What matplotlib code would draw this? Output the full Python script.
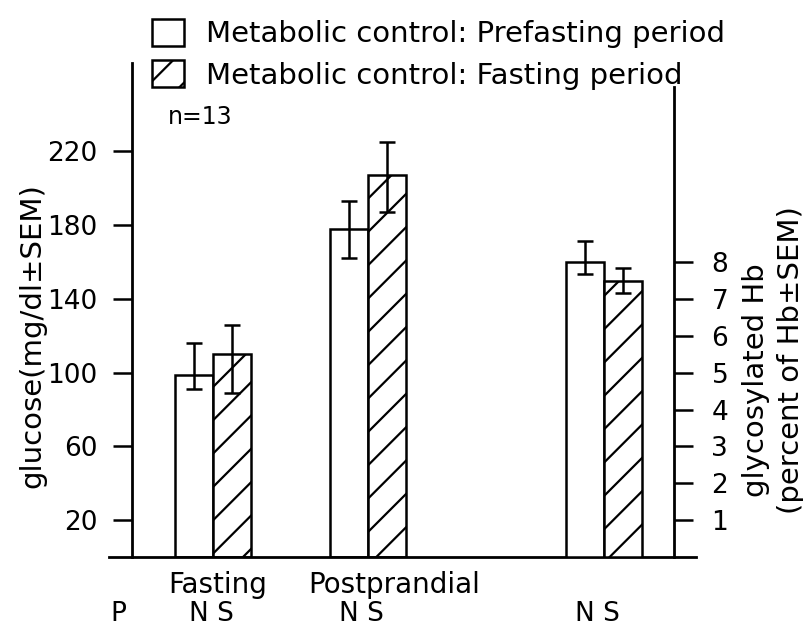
import matplotlib
matplotlib.use('Agg')
import matplotlib.pyplot as plt
import numpy as np

# glucose values (mg/dl)
glucose_groups = ['Fasting', 'Postprandial']
glucose_pos = [0, 1]
pre_mean = [99, 178]
pre_low = [91, 162]
pre_high = [116, 193]
fast_mean = [110, 207]
fast_low = [89, 187]
fast_high = [126, 225]

# glycosylated Hb (percent of Hb)
hb_pos = [2.52]
hb_pre_mean = [8.0]
hb_pre_low = [7.68]
hb_pre_high = [8.57]
hb_fast_mean = [7.5]
hb_fast_low = [7.16]
hb_fast_high = [7.84]

p_labels = ['N S', 'N S', 'N S']
p_pos = [-0.01, 0.96, 2.48]

glucose_ticks = [20, 60, 100, 140, 180, 220]
hb_ticks = [1, 2, 3, 4, 5, 6, 7, 8]

plt.rcParams['font.family'] = 'DejaVu Sans'
plt.rcParams['hatch.linewidth'] = 1.6

fig = plt.figure(figsize=(8.04, 6.3), dpi=100)
ax = fig.add_axes([109/804, 1 - 557/630, (696-109)/804, (557-63)/630])
ax2 = ax.twinx()

w = 0.245
lw = 1.8
err_kw = dict(fmt='none', ecolor='black', elinewidth=1.8, capsize=6, capthick=1.8)

def errs(mean, lo, hi):
    m = np.array(mean)
    return [m - np.array(lo), np.array(hi) - m]

b1 = ax.bar(np.array(glucose_pos) - w/2, pre_mean, w, facecolor='white',
            edgecolor='black', linewidth=lw, label='Metabolic control: Prefasting period')
b2 = ax.bar(np.array(glucose_pos) + w/2, fast_mean, w, facecolor='white',
            edgecolor='black', linewidth=lw, hatch='/', label='Metabolic control: Fasting period')
ax.errorbar(np.array(glucose_pos) - w/2, pre_mean, yerr=errs(pre_mean, pre_low, pre_high), **err_kw)
ax.errorbar(np.array(glucose_pos) + w/2, fast_mean, yerr=errs(fast_mean, fast_low, fast_high), **err_kw)

# Hb bars on the right-hand scale
ax2.bar(np.array(hb_pos) - w/2, hb_pre_mean, w, facecolor='white', edgecolor='black', linewidth=lw)
ax2.bar(np.array(hb_pos) + w/2, hb_fast_mean, w, facecolor='white', edgecolor='black',
        linewidth=lw, hatch='/')
ax2.errorbar(np.array(hb_pos) - w/2, hb_pre_mean, yerr=errs(hb_pre_mean, hb_pre_low, hb_pre_high), **err_kw)
ax2.errorbar(np.array(hb_pos) + w/2, hb_fast_mean, yerr=errs(hb_fast_mean, hb_fast_low, hb_fast_high), **err_kw)

ax.set_xlim(-0.671, 3.116)
ax.set_ylim(0, 268)
ax2.set_ylim(0, 268 / 20)

for s in ['top', 'right']:
    ax.spines[s].set_visible(False)
for s in ['top', 'left', 'bottom']:
    ax2.spines[s].set_visible(False)
ax.spines['left'].set_position(('data', -0.523))
ax2.spines['right'].set_position(('data', 2.974))
ax2.spines['right'].set_bounds(0, 255 / 20)
for sp in [ax.spines['left'], ax.spines['bottom'], ax2.spines['right']]:
    sp.set_linewidth(2.0)

ax.set_yticks(glucose_ticks)
ax2.set_yticks(hb_ticks)
ax.tick_params(axis='y', direction='out', length=14, width=1.8, labelsize=19, pad=11)
ax2.tick_params(axis='y', direction='out', length=14, width=1.8, labelsize=19, pad=13)
ax.tick_params(axis='x', bottom=False, labelbottom=False)

tr = ax.get_xaxis_transform()
ax.text(0.03, -0.057, glucose_groups[0], transform=tr, ha='center', va='center', fontsize=20)
ax.text(1.17, -0.057, glucose_groups[1], transform=tr, ha='center', va='center', fontsize=20)
ax.text(-0.61, -0.115, 'P', transform=tr, ha='center', va='center', fontsize=19)
for x, lab in zip(p_pos, p_labels):
    ax.text(x, -0.115, lab, transform=tr, ha='center', va='center', fontsize=19)

ax.text(-0.08, 0.89, 'n=13', transform=tr, ha='center', va='center', fontsize=17)

fig.text(32/804, 1 - 336/630, 'glucose(mg/dl±SEM)', rotation=90, ha='center', va='center', fontsize=21)
fig.text(756/804, 1 - 380/630, 'glycosylated Hb', rotation=90, ha='center', va='center', fontsize=21)
fig.text(791/804, 1 - 360/630, '(percent of Hb±SEM)', rotation=90, ha='center', va='center', fontsize=21)

fig.legend(handles=[b1, b2], loc='upper left', bbox_to_anchor=(152/804, 1 - 19/630),
           frameon=False, fontsize=21, handlelength=1.1, handleheight=1.05,
           handletextpad=0.75, labelspacing=0.4, borderpad=0, borderaxespad=0)

fig.savefig('out.png', dpi=100, facecolor='white')
